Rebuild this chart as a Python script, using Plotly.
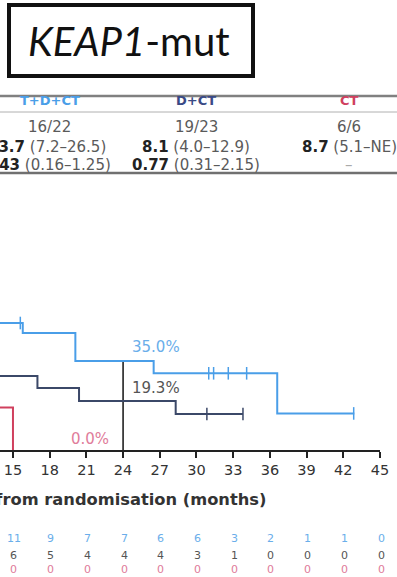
import plotly.graph_objects as go

# ---------------- data ----------------
months_ticks = [15, 18, 21, 24, 27, 30, 33, 36, 39, 42, 45]

# Kaplan-Meier step data (months, survival %)
tdct_x = [13.0, 15.8, 15.8, 20.1, 20.1, 26.5, 26.5, 36.6, 36.6, 42.9]
tdct_y = [50.0, 50.0, 46.1, 46.1, 35.0, 35.0, 30.2, 30.2, 14.4, 14.4]
tdct_cens_x = [15.6, 31.0, 31.4, 32.6, 34.1, 42.85]
tdct_cens_y = [50.0, 30.2, 30.2, 30.2, 30.2, 14.4]

dct_x = [13.0, 17.0, 17.0, 20.4, 20.4, 28.3, 28.3, 33.8]
dct_y = [29.1, 29.1, 24.4, 24.4, 19.3, 19.3, 14.2, 14.2]
dct_cens_x = [30.85, 33.8]
dct_cens_y = [14.2, 14.2]

ct_x = [13.0, 15.0, 15.0]
ct_y = [16.7, 16.7, 0.0]

landmark_x = [24, 24]
landmark_y = [0, 35.0]
landmark_labels = ["35.0%", "19.3%", "0.0%"]
landmark_label_y = [40.5, 24.4, 4.3]

risk_tdct = [11, 9, 7, 7, 6, 6, 3, 2, 1, 1, 0]
risk_dct = [6, 5, 4, 4, 4, 3, 1, 0, 0, 0, 0]
risk_ct = [0, 0, 0, 0, 0, 0, 0, 0, 0, 0, 0]

groups = ["T+D+CT", "D+CT", "CT"]
events = ["16/22", "19/23", "6/6"]
median_val = ["13.7", "8.1", "8.7"]
median_ci = ["(7.2–26.5)", "(4.0–12.9)", "(5.1–NE)"]
hr_val = ["0.43", "0.77", ""]
hr_ci = ["(0.16–1.25)", "(0.31–2.15)", "–"]

# ---------------- style ----------------
W, H = 397, 577
LB = "#4a9ee8"
DK = "#3b4868"
RD = "#d0405e"
LB_T = "#6aaeea"
RD_T = "#e07c9a"
GR = "#5a5a5a"
FONT = "DejaVu Sans"


def px(x):
    return x / W


def py(y):
    return 1 - y / H


fig = go.Figure()

fig.add_trace(go.Scatter(x=landmark_x, y=landmark_y, mode="lines",
                         line=dict(color="#222222", width=1.6), hoverinfo="skip"))
fig.add_trace(go.Scatter(x=ct_x, y=ct_y, mode="lines",
                         line=dict(color=RD, width=2), hoverinfo="skip"))
fig.add_trace(go.Scatter(x=dct_x, y=dct_y, mode="lines",
                         line=dict(color=DK, width=2), hoverinfo="skip"))
fig.add_trace(go.Scatter(x=dct_cens_x, y=dct_cens_y, mode="markers",
                         marker=dict(symbol="line-ns", size=9,
                                     line=dict(color=DK, width=1.5)), hoverinfo="skip"))
fig.add_trace(go.Scatter(x=tdct_x, y=tdct_y, mode="lines",
                         line=dict(color=LB, width=2), hoverinfo="skip"))
fig.add_trace(go.Scatter(x=tdct_cens_x, y=tdct_cens_y, mode="markers",
                         marker=dict(symbol="line-ns", size=9,
                                     line=dict(color=LB, width=1.5)), hoverinfo="skip"))

ann = []
# landmark labels
for lab, ly, col, lx in zip(landmark_labels, landmark_label_y, [LB_T, "#555555", RD_T], [24.6, 24.6, 19.6]):
    ann.append(dict(x=lx, y=ly, xref="x", yref="y", text=lab, showarrow=False,
                    xanchor="left", yanchor="middle", font=dict(family=FONT, size=15, color=col)))

# number at risk rows
for row, col, ypix in [(risk_tdct, LB_T, 538), (risk_dct, "#555555", 555), (risk_ct, RD_T, 569)]:
    for m, v in zip(months_ticks, row):
        ann.append(dict(x=m, y=py(ypix), xref="x", yref="paper", text=str(v), showarrow=False,
                        xanchor="center", yanchor="middle", xshift=1,
                        font=dict(family=FONT, size=11, color=col)))

# axis title (cropped on left, as in the reference)
ann.append(dict(x=px(268), y=py(499), xref="paper", yref="paper",
                text="<b>Time from randomisation (months)</b>", showarrow=False,
                xanchor="right", yanchor="middle", font=dict(family=FONT, size=16.3, color="#333333")))

# summary table
col_cx = [47, 196, 349]
head_cols = [LB, "#3a4a86", RD]
for i, (cx, g, hc, ev, mv, mc, hv, hc2) in enumerate(zip(col_cx, groups, head_cols, events,
                                                         median_val, median_ci, hr_val, hr_ci)):
    ann.append(dict(x=px(50 if i == 0 else cx), y=py(101), xref="paper", yref="paper",
                    text="<b>" + g + "</b>",
                    showarrow=False, xanchor="center", yanchor="middle",
                    font=dict(family=FONT, size=13, color=hc)))
    ann.append(dict(x=px(49 if i == 0 else cx), y=py(127), xref="paper", yref="paper", text=ev,
                    showarrow=False, xanchor="center", yanchor="middle",
                    font=dict(family=FONT, size=15, color=GR)))
    ann.append(dict(x=px(cx), y=py(147), xref="paper", yref="paper",
                    text="<b><span style='color:#222222'>" + mv + "</span></b> " + mc,
                    showarrow=False, xanchor="center", yanchor="middle",
                    font=dict(family=FONT, size=15, color=GR)))
    htxt = ("<b><span style='color:#222222'>" + hv + "</span></b> " + hc2) if hv else hc2
    ann.append(dict(x=px(cx), y=py(165), xref="paper", yref="paper", text=htxt,
                    showarrow=False, xanchor="center", yanchor="middle",
                    font=dict(family=FONT, size=15, color=GR if hv else "#aaaaaa")))

# title box text
ann.append(dict(x=px(129), y=py(41), xref="paper", yref="paper",
                text="<i>KEAP1</i>-mut", showarrow=False, xanchor="center", yanchor="middle",
                font=dict(family="Lato", size=40, color="#111111")))

shapes = [
    dict(type="rect", xref="paper", yref="paper", x0=px(9), x1=px(253), y0=py(5), y1=py(76),
         line=dict(color="#111111", width=4)),
    dict(type="line", xref="paper", yref="paper", x0=0, x1=1, y0=py(96), y1=py(96),
         line=dict(color="#808080", width=2.5)),
    dict(type="line", xref="paper", yref="paper", x0=0, x1=1, y0=py(112), y1=py(112),
         line=dict(color="#b0b0b0", width=1)),
    dict(type="line", xref="paper", yref="paper", x0=0, x1=1, y0=py(173), y1=py(173),
         line=dict(color="#707070", width=2.5)),
]

fig.update_layout(
    width=W, height=H,
    autosize=False,
    margin=dict(l=0, r=0, t=0, b=0, autoexpand=False),
    paper_bgcolor="white", plot_bgcolor="white",
    showlegend=False,
    annotations=ann, shapes=shapes,
    xaxis=dict(domain=[0, 380 / W], range=[13.94, 45], tickvals=months_ticks,
               showline=True, linecolor="#222222", linewidth=2,
               ticks="outside", ticklen=6, tickwidth=2, tickcolor="#222222",
               showgrid=False, zeroline=False, automargin=False,
               tickfont=dict(family=FONT, size=14.5, color="#333333")),
    yaxis=dict(domain=[py(450), py(196)], range=[0, 100], visible=False,
               showgrid=False, zeroline=False),
)

post = ("document.documentElement.style.overflow='hidden';"
        "document.body.style.overflow='hidden';document.body.style.margin='0';"
        "var gd=document.getElementById('{plot_id}');"
        "Plotly.relayout(gd,{width:%d,height:%d});" % (W, H))

fig.write_html("out.html", config={"responsive": False}, post_script=post)
